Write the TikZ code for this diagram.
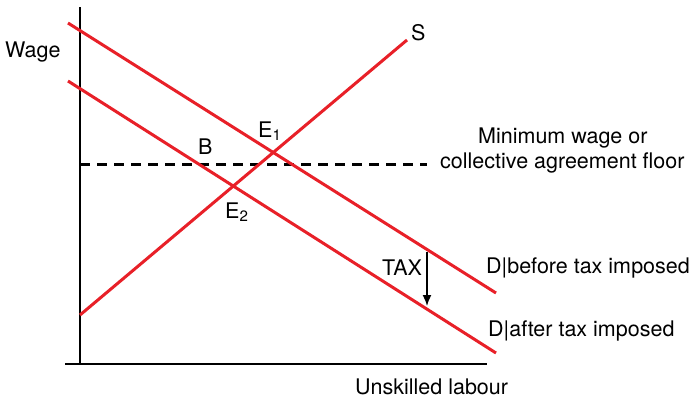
\documentclass[tikz,border=0pt]{standalone}
\usepackage{fontspec}
\setmainfont{TeX Gyre Heros}
\usetikzlibrary{arrows.meta}
\definecolor{curvered}{RGB}{232,32,40}
\tikzset{
  curve/.style={curvered, line width=3pt},
  axis/.style={black, line width=2pt},
  floor/.style={black, line width=3pt, dash pattern=on 10pt off 7pt},
  lbl/.style={inner sep=0pt, font=\fontsize{21.5}{24}\selectfont},
}
\begin{document}
\begin{tikzpicture}[x=1pt,y=-1pt]
\useasboundingbox (0,0) rectangle (691,400);
% axes
\coordinate (top) at (80,7);
\coordinate (orig) at (80,364);
\coordinate (xleft) at (65,364);
\coordinate (xend) at (487,364);
\draw[axis] (top) -- (orig);
\draw[axis] (xleft) -- (xend);
% curves
\coordinate (d1a) at (68,23);   \coordinate (d1b) at (496,293);
\coordinate (d2a) at (68,81);   \coordinate (d2b) at (496,353);
\coordinate (sa) at (80,315);   \coordinate (sb) at (407,40);
\coordinate (fa) at (80,164);   \coordinate (fb) at (427,164);
\draw[floor] (fa) -- (fb);
\draw[curve] (d1a) -- (d1b);
\draw[curve] (d2a) -- (d2b);
\draw[curve] (sa) -- (sb);
% tax shift
\coordinate (taxa) at (427,252);
\coordinate (taxb) at (427,306);
\draw[black, line width=1.6pt, -{Latex[length=11pt,width=9pt]}] (taxa) -- (taxb);
% labels
\node[lbl, anchor=west] (wage) at (5,52) {Wage};
\node[lbl, anchor=west] (slbl) at (411,33) {S};
\node[lbl, anchor=west] (e1) at (258,131) {E\textsubscript{1}};
\node[lbl, anchor=west] (blbl) at (198,147) {B};
\node[lbl, anchor=west] (e2) at (225,212) {E\textsubscript{2}};
\node[lbl, anchor=west] (minw) at (478,138) {Minimum wage or};
\node[lbl, anchor=west] (coll) at (440,163) {collective agreement floor};
\node[lbl, anchor=west] (tax) at (382,268) {TAX};
\node[lbl, anchor=west] (dbefore) at (486,268) {D|before tax imposed};
\node[lbl, anchor=west] (dafter) at (488,331) {D|after tax imposed};
\node[lbl, anchor=west] (labour) at (355,387) {Unskilled labour};
\end{tikzpicture}
\end{document}
